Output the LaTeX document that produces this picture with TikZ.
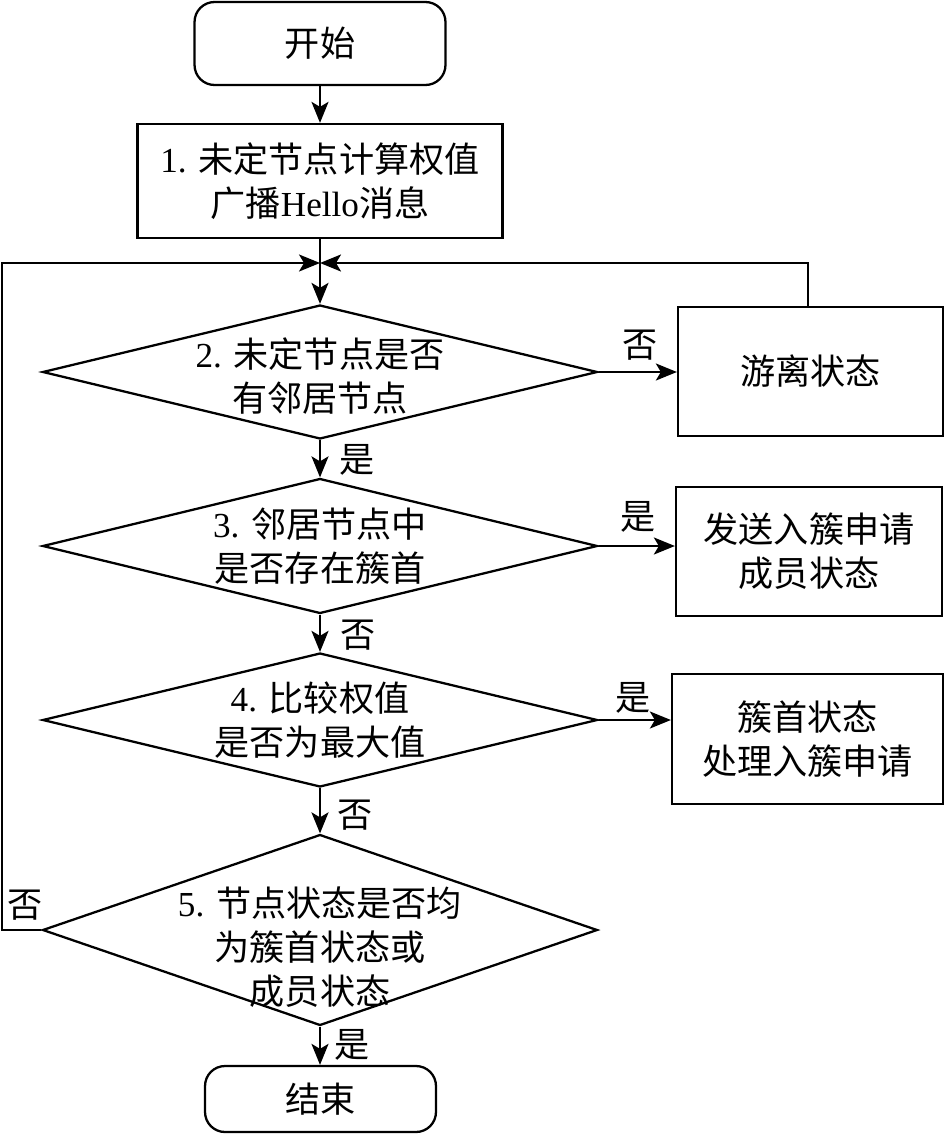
\documentclass[tikz,border=0pt]{standalone}
\usepackage{fontspec}
\setmainfont{Liberation Serif}
\newfontfamily\cjk{Noto Sans CJK SC}
\usetikzlibrary{shapes.geometric,arrows.meta}
\newcommand\zh[1]{{\cjk #1}}
\begin{document}
\begin{tikzpicture}[x=0.02cm,y=-0.02cm,line width=1.3pt,
  every node/.style={font=\fontsize{20}{25}\selectfont},
  term/.style={draw,rounded corners=0.4cm,inner sep=0,align=center},
  proc/.style={draw,inner sep=0,align=center},
  dia/.style={draw,shape=diamond,inner sep=0,aspect=1,minimum width=11.1cm},
  lbl/.style={inner sep=0},
  arr/.style={-{Stealth[length=0.42cm,width=0.34cm,inset=0.1cm]}}]
\useasboundingbox (0,0) rectangle (945,1135);

\node[term,minimum width=5.02cm,minimum height=1.66cm] (start) at (320,43.5) {\zh{开始}};
\node[proc,minimum width=7.3cm,minimum height=2.28cm] (b1) at (320,181) {1. \zh{未定节点计算权值}\\\zh{广播}Hello\zh{消息}};

\node[dia,minimum height=2.68cm,label={[align=center,yshift=-0.08cm]center:{2. \zh{未定节点是否}\\\zh{有邻居节点}}}] (d2) at (320,372) {};
\node[proc,minimum width=5.3cm,minimum height=2.58cm] (yl) at (810.5,371.5) {\zh{游离状态}};

\node[dia,minimum height=2.7cm,label={[align=center]center:{3. \zh{邻居节点中}\\\zh{是否存在簇首}}}] (d3) at (320,546) {};
\node[proc,minimum width=5.32cm,minimum height=2.58cm] (b3) at (809,551.5) {\zh{发送入簇申请}\\\zh{成员状态}};

\node[dia,minimum height=2.68cm,label={[align=center]center:{4. \zh{比较权值}\\\zh{是否为最大值}}}] (d4) at (320,720) {};
\node[proc,minimum width=5.42cm,minimum height=2.6cm] (b4) at (807.5,739) {\zh{簇首状态}\\\zh{处理入簇申请}};

\node[dia,minimum height=3.82cm,label={[align=center,yshift=-0.34cm]center:{5. \zh{节点状态是否均}\\\zh{为簇首状态或}\\\zh{成员状态}}}] (d5) at (320,930) {};

\node[term,minimum width=4.62cm,minimum height=1.32cm] (end) at (320.5,1099) {\zh{结束}};

\coordinate (m) at (320,263);
\coordinate (lc) at (2,263);

\draw[arr] (start) -- (start.south |- b1.north);
\draw (b1.south -| m) -- (m);
\draw[arr] (m) -- (d2.north);
\draw[arr] (d5.west) -| (lc) -- (m);
\draw[arr] (yl.north -| 808,0) |- (m);
\draw[arr] (d2.east) -- (d2.east -| yl.west);
\draw[arr] (d2.south) -- (d3.north);
\draw[arr] (d3.east) -- (d3.east -| b3.west);
\draw[arr] (d3.south) -- (d4.north);
\draw[arr] (d4.east) -- (d4.east -| b4.west);
\draw[arr] (d4.south) -- (d5.north);
\draw[arr] (d5.south) -- (d5.south |- end.north);

\node[lbl] (n2) at (640,345) {\zh{否}};
\node[lbl] (y2) at (357,460) {\zh{是}};
\node[lbl] (y3) at (638,517) {\zh{是}};
\node[lbl] (n3) at (358,635) {\zh{否}};
\node[lbl] (y4) at (633,698) {\zh{是}};
\node[lbl] (n4) at (355,815) {\zh{否}};
\node[lbl] (n5) at (25,905) {\zh{否}};
\node[lbl] (y5) at (352,1045) {\zh{是}};
\end{tikzpicture}
\end{document}
